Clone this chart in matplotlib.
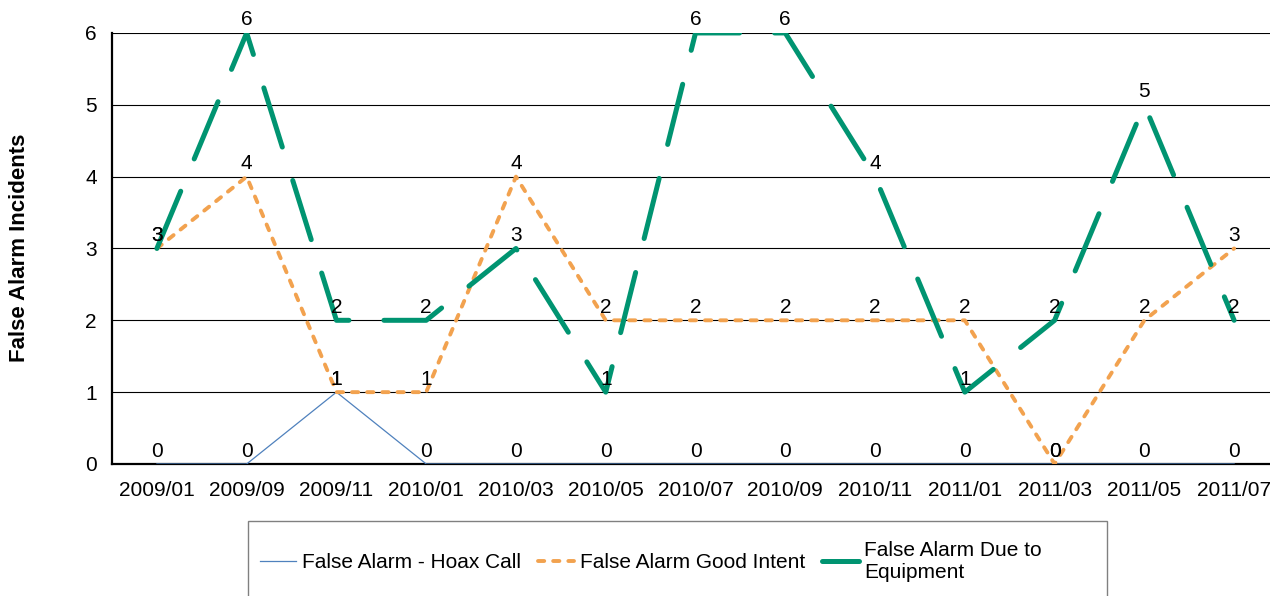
import matplotlib.pyplot as plt
from matplotlib.patches import Rectangle

plt.rcParams['font.family'] = ['Liberation Sans', 'DejaVu Sans']

months = ["2009/01", "2009/09", "2009/11", "2010/01", "2010/03", "2010/05",
          "2010/07", "2010/09", "2010/11", "2011/01", "2011/03", "2011/05",
          "2011/07"]
hoax = [0, 0, 1, 0, 0, 0, 0, 0, 0, 0, 0, 0, 0]
good_intent = [3, 4, 1, 1, 4, 2, 2, 2, 2, 2, 0, 2, 3]
equipment = [3, 6, 2, 2, 3, 1, 6, 6, 4, 1, 2, 5, 2]

names = ["False Alarm - Hoax Call", "False Alarm Good Intent",
         "False Alarm Due to\nEquipment"]


def main():
    fig = plt.figure(figsize=(12.7, 5.96), dpi=100)
    ax = fig.add_axes([0.0882, 0.2215, 0.9189, 0.7232])
    x = list(range(len(months)))

    ax.plot(x, hoax, color='#4F81BD', lw=0.9, label=names[0], zorder=3)
    ax.plot(x, good_intent, color='#F2A24F', lw=2.8, label=names[1],
            dashes=(1.6, 2.3), dash_capstyle='round', zorder=4)
    ax.plot(x, equipment, color='#009471', lw=3.6, label=names[2],
            dashes=(12.4, 7), dash_capstyle='round', zorder=5)

    for series in (hoax, good_intent, equipment):
        for xi, v in zip(x, series):
            ax.annotate(str(v), (xi, v), xytext=(0, 2.5), textcoords='offset points',
                        ha='center', va='bottom', fontsize=15, zorder=6,
                        annotation_clip=False)

    ax.set_xlim(-0.5, 12.5)
    ax.set_ylim(0, 6)
    ax.set_xticks(x)
    ax.set_xticklabels(months)
    ax.set_yticks(range(7))
    ax.tick_params(axis='both', length=0, labelsize=15)
    ax.tick_params(axis='y', pad=11)
    ax.tick_params(axis='x', pad=12)
    ax.grid(axis='y', color='black', lw=0.8)
    ax.set_axisbelow(True)
    for s in ('top', 'right'):
        ax.spines[s].set_visible(False)
    ax.spines['left'].set_linewidth(1.6)
    ax.spines['bottom'].set_linewidth(1.6)

    fig.text(0.015, 0.584, "False Alarm Incidents", rotation=90, fontsize=16,
             fontweight='bold', ha='center', va='center')

    fig.patches.append(Rectangle((248 / 1270, -0.05), (1107 - 248) / 1270,
                                 0.05 + 1 - 521 / 596, transform=fig.transFigure,
                                 fill=False, edgecolor='#808080', lw=1))
    fig.legend(loc='center left', bbox_to_anchor=(260 / 1270, 1 - 561 / 596),
               ncol=3, frameon=False, fontsize=15, handlelength=1.75,
               handletextpad=0.28, columnspacing=0.8, borderaxespad=0,
               borderpad=0, labelspacing=0.2)

    fig.savefig("out.png", dpi=100)


if __name__ == "__main__":
    main()
